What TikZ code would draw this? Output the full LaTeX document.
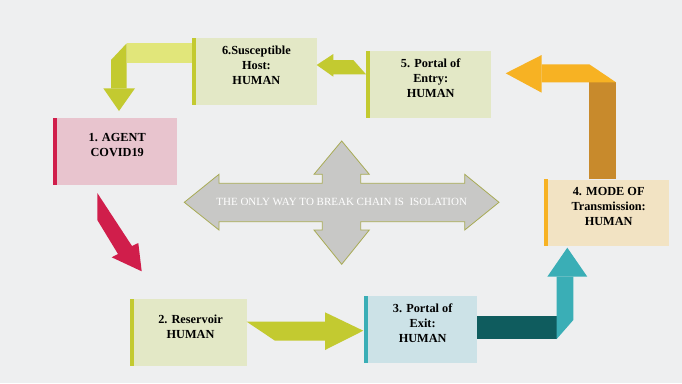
\documentclass[tikz,border=0pt]{standalone}
\usepackage{fontspec}
\setmainfont{Liberation Serif}
\definecolor{bgc}{HTML}{EEEFF0}
\definecolor{pinkfill}{HTML}{E8C4CE}
\definecolor{crimson}{HTML}{D01E4B}
\definecolor{greenfill}{HTML}{E3E8C6}
\definecolor{olive}{HTML}{C3CA30}
\definecolor{lightyel}{HTML}{E1E67A}
\definecolor{tealfill}{HTML}{CCE2E7}
\definecolor{tealc}{HTML}{3AAEB6}
\definecolor{darkteal}{HTML}{0F5C5E}
\definecolor{orangefill}{HTML}{F2E3C3}
\definecolor{orangec}{HTML}{F7B223}
\definecolor{brownc}{HTML}{C88A2C}
\definecolor{crossfill}{HTML}{C8C8C6}
\definecolor{crossline}{HTML}{A8AB55}
\tikzset{
  boxshape/.style={rectangle, draw=none, inner sep=0pt, anchor=north west},
  boxtext/.style={align=center, inner sep=0pt, font=\bfseries\fontsize{12.3}{15}\selectfont, text=black},
}
\newcommand{\mkbox}[8]{% name, x, y, w, h, fill, bar, text
  \node[boxshape, fill=#6, minimum width=#4pt, minimum height=#5pt] (#1) at (#2,#3) {};
  \fill[#7] (#1.north west) rectangle ([xshift=4pt]#1.south west);
  \node[boxtext] (#1t) at ([xshift=2pt,yshift=6pt]#1.center) {#8};
}
\begin{document}
\begin{tikzpicture}[x=1pt,y=-1pt]
\useasboundingbox (0,0) rectangle (682,383);
\fill[bgc] (0,0) rectangle (682,383);

% boxes
\mkbox{b6}{191.7}{37.7}{125}{66.7}{greenfill}{olive}{6.Susceptible\\Host:\\HUMAN}
\mkbox{b1}{53.3}{117.7}{123.4}{66.6}{pinkfill}{crimson}{1. AGENT\\COVID19}
\mkbox{b5}{366}{50.7}{125}{67}{greenfill}{olive}{5. Portal of\\Entry:\\HUMAN}
\mkbox{b4}{544}{179.3}{125}{66.7}{orangefill}{orangec}{4. MODE OF\\Transmission:\\HUMAN}
\mkbox{b2}{130}{299}{116.7}{66.7}{greenfill}{olive}{2. Reservoir\\HUMAN}
\mkbox{b3}{364.3}{295.7}{112.4}{67}{tealfill}{tealc}{3. Portal of\\Exit:\\HUMAN}

% arrow 6 -> 1
\fill[lightyel] (126.7,43.3) rectangle (b6.west |- 0,63.3);
\fill[olive] (111,60) -- (126.7,43.3) -- (126.7,88.3) -- (111,88.3) -- cycle;
\fill[olive] (103.3,88.3) -- (135,88.3) -- (119,111) -- cycle;

% arrow 5 -> 6
\fill[olive] (316.7,65) -- (333.3,54) -- (333.3,60) -- (353.3,60) -- (366,74.3) -- (333.3,74.3) -- (333.3,76.7) -- cycle;

% arrow 4 -> 5
\fill[brownc] (589.3,82.3) rectangle (616,179.3);
\fill[orangec] (541.7,64.3) -- (589.3,64.3) -- (616,82.3) -- (541.7,82.3) -- cycle;
\fill[orangec] (541.7,55) -- (541.7,92.7) -- (505.7,73.3) -- cycle;

% arrow 3 -> 4
\fill[darkteal] (476.7,316) rectangle (556.7,339);
\fill[tealc] (556.7,339) -- (556.7,276.7) -- (573.3,276.7) -- (573.3,320) -- cycle;
\fill[tealc] (547.3,276.7) -- (587.3,276.7) -- (567.3,247.7) -- cycle;

% arrow 2 -> 3
\fill[olive] (246.7,321.7) -- (325,321.7) -- (325,312.3) -- (363.3,330.7) -- (325,350) -- (325,340.7) -- (275,340.7) -- cycle;

% arrow 1 -> 2
\fill[crimson] (97.3,193) -- (132,246) -- (138.3,243) -- (141.7,271.3) -- (111.7,257.3) -- (118,254) -- (97.3,220) -- cycle;

% cross
\filldraw[fill=crossfill, draw=crossline, line width=0.8pt, line join=miter]
  (184.3,202.3) -- (219,174.3) -- (219,183.3) -- (322.3,183.3) -- (322.3,174.3) -- (314,174.3)
  -- (341.7,141) -- (369.3,174.3) -- (360.7,174.3) -- (360.7,183.3) -- (464.7,183.3) -- (464.7,174.3)
  -- (499,202.3) -- (464.7,230) -- (464.7,221.7) -- (360.7,221.7) -- (360.7,230) -- (369.3,230)
  -- (341.7,264.3) -- (314,230) -- (322.3,230) -- (322.3,221.7) -- (219,221.7) -- (219,230) -- cycle;
\node[inner sep=0pt, text=white, font=\fontsize{11}{13}\selectfont] (cross) at (341.7,202.3) {THE ONLY WAY TO BREAK CHAIN IS~~ISOLATION};
\end{tikzpicture}
\end{document}
